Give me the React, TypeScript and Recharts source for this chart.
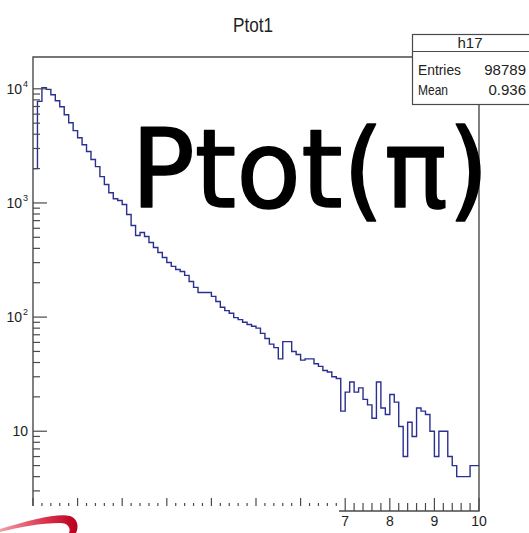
import React from 'react';
import { ComposedChart, Line, XAxis, YAxis, ReferenceArea } from 'recharts';

// bin contents of h17 (100 bins of 0.1 from 0 to 10)
const counts0to2 = [
  2000, 7760, 10240, 9890, 8880, 7870, 6970, 5930, 5050, 4300,
  3730, 3240, 2820, 2400, 2080, 1700, 1450, 1230, 1090, 1050,
];
const counts2to4 = [
  968, 792, 635, 519, 551, 508, 450, 407, 368, 333,
  301, 278, 261, 251, 232, 205, 182, 164, 164, 164,
];
const counts4to6 = [
  152, 137, 122, 114, 108, 99, 95, 90, 86, 83,
  80, 72, 65, 58, 54, 43, 61, 61, 50, 47,
];
const counts6to8 = [
  42, 43, 43, 39, 37, 34, 33, 30, 29, 15,
  22, 27, 22, 24, 19, 17, 13, 27, 16, 14,
];
const counts8to10 = [
  21, 18, 11, 6, 12, 9, 16, 15, 14, 10,
  6, 10, 10, 6, 5, 4, 4, 4, 5, 5,
];

const counts = [...counts0to2, ...counts2to4, ...counts4to6, ...counts6to8, ...counts8to10];
const binWidth = 0.1;
const xMin = 0;
const xMax = 10;

const majorYTicks = [10, 100, 1000, 10000];
const minorYTicks = [
  3, 4, 5, 6, 7, 8, 9,
  20, 30, 40, 50, 60, 70, 80, 90,
  200, 300, 400, 500, 600, 700, 800, 900,
  2000, 3000, 4000, 5000, 6000, 7000, 8000, 9000,
];
const majorXTicks = [0, 1, 2, 3, 4, 5, 6, 7, 8, 9, 10];
const shownXLabels = ['7', '8', '9', '10'];

const histTitle = 'Ptot1';
const statsName = 'h17';
const statsRows = [
  { label: 'Entries', value: '98789', width: 43 },
  { label: 'Mean', value: '0.936', width: 30 },
];
const overlayText = 'Ptot(π)';

const data = counts.map((c, i) => ({ x: Math.round(i * binWidth * 10) / 10, count: c }));
data.push({ x: xMax, count: counts[counts.length - 1] });

const minorXTicks: number[] = [];
for (let i = 0; i <= 50; i++) {
  const v = Math.round(i * 2) / 10;
  if (!majorXTicks.includes(v)) minorXTicks.push(v);
}

const axisFont = "'Liberation Sans Narrow', 'Liberation Sans', Arial, sans-serif";
const frameColor = '#4a4a4a';
const lineColor = '#2b2f8f';

const YTick = (props: any) => {
  const { x, y, payload } = props;
  const v = payload.value as number;
  const major = majorYTicks.includes(v);
  const exp = Math.round(Math.log10(v));
  return (
    <g>
      <line x1={x} x2={x + (major ? 14 : 7)} y1={y} y2={y} stroke={frameColor} strokeWidth={1.2} />
      {major && exp === 1 && (
        <text x={x - 5} y={y + 5} textAnchor="end" fontSize={14} fontFamily={axisFont} fill="#222">
          10
        </text>
      )}
      {major && exp > 1 && (
        <text x={x - 11} y={y + 5} textAnchor="end" fontSize={14} fontFamily={axisFont} fill="#222">
          10
        </text>
      )}
      {major && exp > 1 && (
        <text x={x - 10} y={y - 2} textAnchor="start" fontSize={9} fontFamily={axisFont} fill="#222">
          {exp}
        </text>
      )}
    </g>
  );
};

const XTick = (props: any) => {
  const { x, y, payload } = props;
  const v = payload.value as number;
  const major = majorXTicks.includes(v);
  const label = String(v);
  return (
    <g>
      <line x1={x} x2={x} y1={y} y2={y - (major ? 13 : 8)} stroke={frameColor} strokeWidth={1.2} />
      {major && shownXLabels.includes(label) && (
        <text x={x} y={y + 15} textAnchor="middle" fontSize={14} fontFamily={axisFont} fill="#222">
          {label}
        </text>
      )}
    </g>
  );
};

export default function App() {
  return (
    <div style={{ position: 'absolute', left: 0, top: 0, width: 529, height: 533, background: '#fff' }}>
      <ComposedChart
        width={529}
        height={533}
        data={data}
        margin={{ top: 57, right: 50, left: 0, bottom: 0 }}
      >
        <XAxis
          dataKey="x"
          type="number"
          domain={[xMin, xMax]}
          ticks={[...majorXTicks, ...minorXTicks].sort((a, b) => a - b)}
          interval={0}
          tickSize={0}
          tickMargin={0}
          axisLine={false}
          tickLine={false}
          height={22}
          tick={<XTick />}
        />
        <YAxis
          type="number"
          scale="log"
          domain={[2, 19000]}
          allowDataOverflow
          ticks={[...minorYTicks, ...majorYTicks].sort((a, b) => a - b)}
          interval={0}
          tickSize={0}
          tickMargin={0}
          axisLine={false}
          tickLine={false}
          width={33}
          tick={<YTick />}
        />
        <ReferenceArea
          x1={xMin}
          x2={xMax}
          y1={2}
          y2={19000}
          fill="none"
          stroke={frameColor}
          strokeWidth={1.4}
          fillOpacity={0}
        />
        <Line
          type="stepAfter"
          dataKey="count"
          stroke={lineColor}
          strokeWidth={1.4}
          dot={false}
          activeDot={false}
          isAnimationActive={false}
        />
      </ComposedChart>
      <svg
        width={529}
        height={533}
        style={{ position: 'absolute', left: 0, top: 0, pointerEvents: 'none' }}
      >
        <defs>
          <linearGradient id="swoosh" x1="0" x2="1" y1="0" y2="0">
            <stop offset="0" stopColor="#f0a0a8" />
            <stop offset="0.6" stopColor="#d8304a" />
            <stop offset="1" stopColor="#b8001e" />
          </linearGradient>
        </defs>
        <text
          x={253}
          y={32}
          textAnchor="middle"
          fontSize={21}
          fontFamily={axisFont}
          fill="#222"
          textLength={40}
          lengthAdjust="spacingAndGlyphs"
        >
          {histTitle}
        </text>
        <rect x={0} y={506} width={339} height={27} fill="#fff" />
        <path
          d="M 0 529 C 30 520, 58 513, 70 516 C 78 519, 79 527, 76 533 L 69 533 C 71 528, 68 523, 60 523 C 40 523, 20 527, 0 532 Z"
          fill="url(#swoosh)"
        />
        <g fontFamily={axisFont} fill="#222">
          <rect x={412.5} y={34.5} width={130} height={70} fill="#fff" stroke={frameColor} strokeWidth={1.2} />
          <line x1={412.5} x2={542} y1={51.5} y2={51.5} stroke={frameColor} strokeWidth={1.2} />
          <text x={470} y={48} textAnchor="middle" fontSize={15}>
            {statsName}
          </text>
          {statsRows.map((r, i) => (
            <g key={r.label}>
              <text x={418} y={75 + i * 20} fontSize={15} textLength={r.width} lengthAdjust="spacingAndGlyphs">
                {r.label}
              </text>
              <text x={526} y={75 + i * 20} textAnchor="end" fontSize={15}>
                {r.value}
              </text>
            </g>
          ))}
        </g>
        <text
          x={131}
          y={207}
          fontSize={108}
          fontFamily="'DejaVu Sans', sans-serif"
          fill="#000"
          stroke="#000"
          strokeWidth={1.5}
          strokeLinejoin="round"
          textLength={358}
          lengthAdjust="spacingAndGlyphs"
        >
          {overlayText}
        </text>
      </svg>
    </div>
  );
}
